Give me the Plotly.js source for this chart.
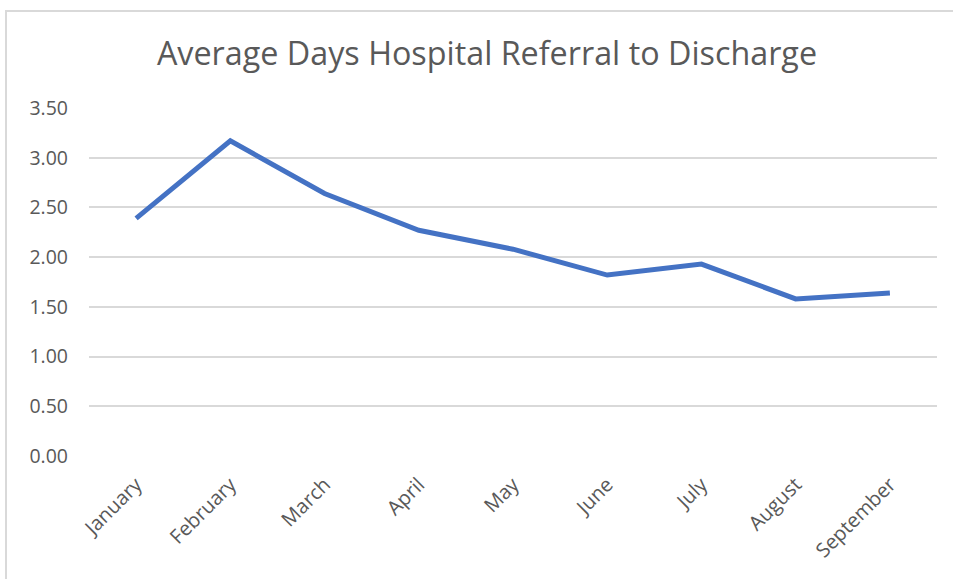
<!DOCTYPE html>
<html>
<head>
<meta charset="utf-8">
<script src="https://cdn.plot.ly/plotly-3.0.1.min.js"></script>
<style>
  html, body { margin: 0; padding: 0; background: #fff; }
  #wrap { position: relative; width: 953px; height: 579px; overflow: hidden; }
  #chart { width: 953px; height: 579px; }
  #frame { position: absolute; left: 5px; top: 10px; width: 1000px; height: 700px;
           border-left: 2px solid #d9d9d9; border-top: 2px solid #d9d9d9; pointer-events: none; }
</style>
</head>
<body>
<div id="wrap">
  <div id="chart"></div>
  <div id="frame"></div>
</div>
<script>
const chartTitle = "Average Days Hospital Referral to Discharge";
const months = ["January", "February", "March", "April", "May", "June", "July", "August", "September"];
const avgDays = [2.39, 3.17, 2.64, 2.27, 2.08, 1.82, 1.93, 1.58, 1.64];
const yTickVals = [0, 0.5, 1, 1.5, 2, 2.5, 3, 3.5];
const yTickText = ["0.00", "0.50", "1.00", "1.50", "2.00", "2.50", "3.00", "3.50"];

const trace = {
  x: months,
  y: avgDays,
  type: "scatter",
  mode: "lines",
  line: { color: "#4472C4", width: 5 },
  hoverinfo: "x+y"
};

const layout = {
  width: 953,
  height: 579,
  margin: { l: 89, r: 16, t: 108, b: 123 },
  paper_bgcolor: "#ffffff",
  plot_bgcolor: "#ffffff",
  showlegend: false,
  title: {
    text: chartTitle,
    font: { family: "Open Sans, sans-serif", size: 32.3, color: "#595959" },
    x: 0.511,
    xanchor: "center",
    y: 0.907,
    yanchor: "middle"
  },
  xaxis: {
    type: "category",
    range: [-0.5, 8.5],
    tickangle: -45,
    showgrid: false,
    zeroline: false,
    showline: false,
    ticks: "",
    ticklabelstandoff: 12,
    tickfont: { family: "Open Sans, sans-serif", size: 20, color: "#595959" },
    fixedrange: true
  },
  yaxis: {
    range: [0, 3.5],
    tickvals: yTickVals,
    ticktext: yTickText,
    showgrid: true,
    gridcolor: "#d9d9d9",
    gridwidth: 2,
    zeroline: false,
    showline: false,
    ticks: "",
    ticklabelstandoff: 20,
    tickfont: { family: "Open Sans, sans-serif", size: 19.5, color: "#595959" },
    fixedrange: true
  }
};

Plotly.newPlot("chart", [trace], layout, { displayModeBar: false, staticPlot: true });
</script>
</body>
</html>
